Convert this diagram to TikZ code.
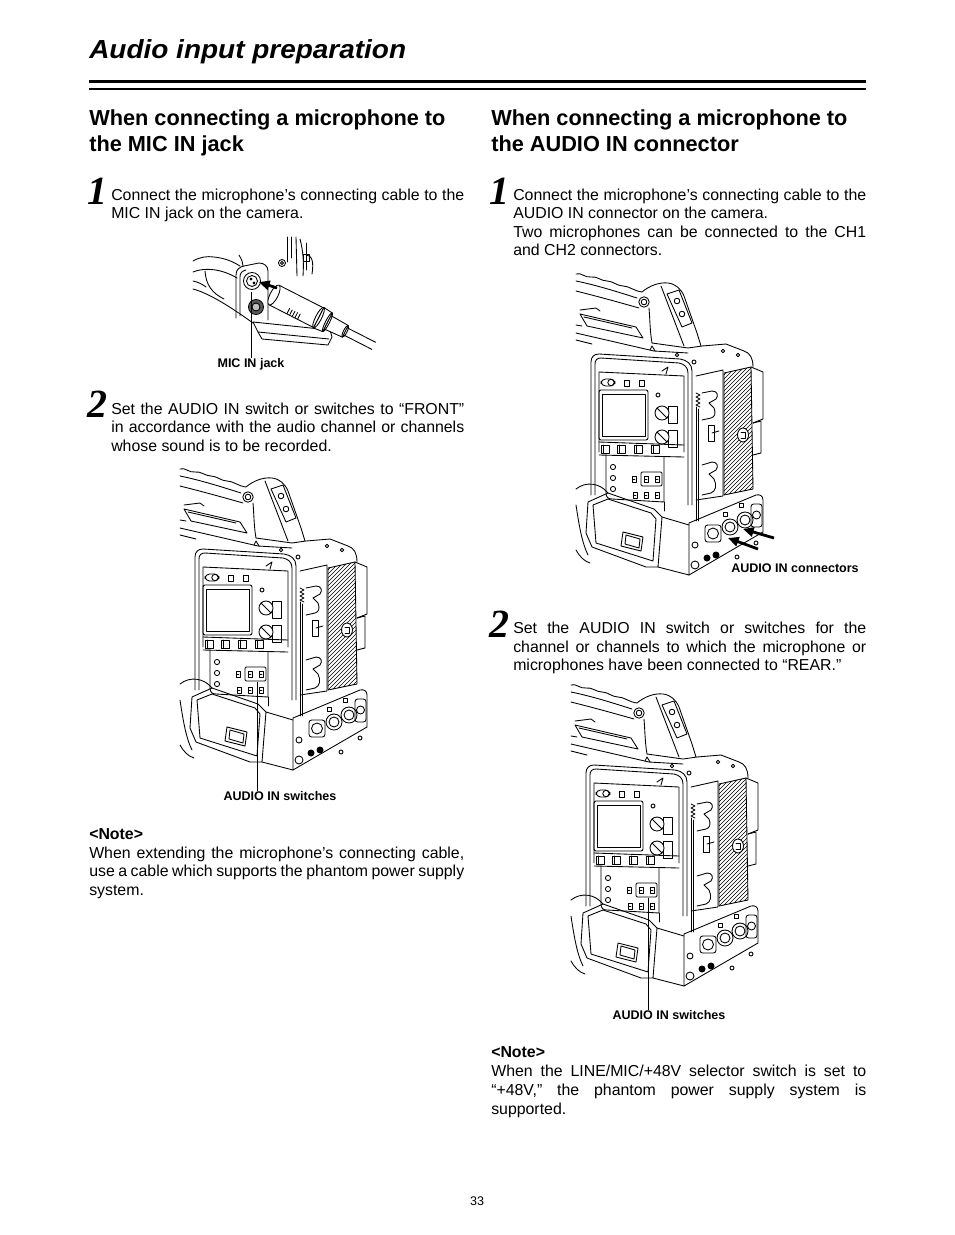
\documentclass[tikz,border=0pt]{standalone}
\usepackage{fontspec}
\setmainfont{Liberation Sans}
\newfontfamily\stepfont{Liberation Serif}
\usetikzlibrary{arrows.meta}
\newcommand\jl[2]{\makebox[#1][s]{#2}}
\tikzset{
  ln/.style={line width=0.65pt,line join=round,line cap=round},
  hatch/.style={line width=0.4pt},
  bodytxt/.style={inner sep=0pt,anchor=base west,font=\fontsize{11.9}{14}\selectfont},
  notehd/.style={inner sep=0pt,anchor=base west,font=\fontsize{11.9}{14}\selectfont\bfseries},
  headtxt/.style={inner sep=0pt,anchor=base west,font=\fontsize{16.3}{19}\selectfont\bfseries},
  titletxt/.style={inner sep=0pt,anchor=base west,font=\fontsize{19.6}{22}\selectfont\bfseries\itshape},
  stepnum/.style={inner sep=0pt,anchor=base west,font=\fontsize{30}{31}\stepfont\bfseries\itshape},
  lbl/.style={inner sep=0pt,anchor=base,font=\fontsize{9.4}{11}\selectfont\bfseries},
  leader/.style={line width=0.6pt},
  bigarrow/.style={line width=2.1pt,-{Triangle[length=8pt,width=7pt]}},
  camera/.pic={
    % handle grip
    \draw[ln] (180,469) .. controls (185,467) and (189,473) .. (195,472)
      .. controls (201,471) and (205,476) .. (211,476)
      .. controls (217,476) and (221,481) .. (227,481)
      .. controls (233,481) and (238,486) .. (246,487)
      .. controls (253,481) and (263,477) .. (272,478)
      .. controls (280,479) and (285,484) .. (288,491)
      -- (301,528) -- (305,541);
    \draw[ln] (180,476) .. controls (200,480) and (222,487) .. (241,493);
    \draw[ln] (180,486) .. controls (200,491) and (222,497) .. (243,503);
    \draw[ln] (253,503) .. controls (254,515) and (254,527) .. (256,538);
    \draw[ln] (265,481) -- (288,541);
    \draw[ln] (271,489) -- (283,485) -- (296,518) -- (286,522) -- cycle;
    \draw[ln] (281,496) circle (2.8);
    \draw[ln] (286,509) circle (2.8);
    \draw[ln,fill=white] (248,497) circle (5.2);
    \draw[ln] (248,497) circle (2.8);
    % top of body
    \draw[ln] (184,509) -- (240,522) -- (247,533) -- (191,521) -- cycle;
    \draw[ln] (188,512) -- (236,523);
    \draw[ln] (184,505) -- (200,503) -- (204,506);
    \draw[ln] (180,520) -- (186,521);
    \draw[ln] (180,528) -- (258,546) -- (292,548);
    \draw[ln] (180,535) -- (196,539);
    \draw[ln] (256,538) -- (292,543) -- (306,541) -- (330,539) -- (348,546)
      .. controls (354,548) and (357,553) .. (357,562);
    \draw[ln] (281,550) circle (1.8);
    \draw[ln] (327,546) circle (1.8);
    \draw[ln] (342,550) circle (1.8);
    \draw[ln] (298,557) circle (2);
    \draw[ln] (254,545) -- (256,541) -- (259,546);
    % front panel
    \draw[ln] (195,690) -- (195,557) .. controls (195,552) and (198,549) .. (203,549)
      -- (284,554) .. controls (291,555) and (296,559) .. (296,566) -- (296,700);
    \draw[ln] (199,690) -- (199,559) .. controls (199,555) and (201,553) .. (205,553)
      -- (283,558) .. controls (288,559) and (292,562) .. (292,568) -- (292,700);
    \draw[ln] (203,647) -- (203,567) -- (288,571) -- (288,647);
    \draw[ln] (266,566) -- (272,562) -- (270,569);
    % LCD
    \draw[ln,rounded corners=1.5] (203,585) rectangle (252,635);
    \draw[ln] (206,589) rectangle (249,631);
    \draw[ln,rounded corners=3.4] (205,574) rectangle (219,581);
    \draw[ln] (215,577.5) circle (3.2);
    \draw[ln] (228,575) rectangle (233,581);
    \draw[ln] (243,575) rectangle (248,581);
    \draw[ln] (262,590) circle (2);
    % knobs
    \draw[ln] (272,601) rectangle (281,618);
    \draw[ln] (272,625) rectangle (281,642);
    \draw[ln,fill=white] (266,608) circle (7);
    \draw[ln,fill=white] (266,632) circle (7);
    \draw[ln] (261,603) -- (271,613);
    \draw[ln] (261,627) -- (271,637);
    % button row
    \draw[ln] (203,637) -- (288,640);
    \foreach \bx in {205,221,238,255} {\draw[ln] (\bx,640) rectangle ++(8,8);
      \draw[ln] (\bx+2,640) -- (\bx+2,648);}
    \draw[ln] (203,650) -- (288,652);
    % audio panel
    \draw[ln] (210,650) -- (210,688) .. controls (210,692) and (212,694) .. (216,694) -- (268,697) -- (268,652);
    \foreach \cy in {662,673,684} {\draw[ln] (217,\cy) circle (2.6);}
    \draw[ln,rounded corners=1] (245,667) rectangle (266,681);
    \foreach \sx/\sy in {238/674,250/674,261/674,239/690,250/690,261/690}
      {\draw[ln] (\sx-2,\sy-3) rectangle (\sx+2,\sy+3);
       \draw[ln] (\sx-1,\sy) -- (\sx+1,\sy);}
    % hood and lens side
    \draw[ln] (180,684) .. controls (190,676) and (204,678) .. (212,688);
    \draw[ln] (192,697) -- (212,688) -- (258,704) -- (266,712) -- (262,762) -- (250,762) -- (196,742) -- (190,728) -- cycle;
    \draw[ln] (197,700) -- (212,694) -- (255,708) -- (260,714) -- (257,756) -- (200,738) -- cycle;
    \draw[ln] (227,727) -- (247,732) -- (245,746) -- (225,741) -- cycle;
    \draw[ln] (230,730) -- (244,734) -- (243,743) -- (229,739) -- cycle;
    \draw[ln] (180,700) .. controls (183,720) and (186,738) .. (192,750);
    \draw[ln] (180,745) .. controls (184,752) and (188,756) .. (194,758);
    % lower body front
    \draw[ln] (266,712) -- (293,720);
    \draw[ln] (262,762) -- (293,770);
    \draw[ln] (268,697) -- (268,706);
    % mount plate
    \draw[ln] (300,571) -- (327,565) -- (327,691) -- (300,695);
    \draw[ln] (306,588) -- (316,586) .. controls (321,586) and (323,590) .. (320,594) -- (313,598) -- (318,603)
      .. controls (320,608) and (319,612) .. (315,613) -- (306,615);
    \draw[ln] (306,660) -- (316,657) .. controls (321,657) and (323,661) .. (320,665) -- (313,669) -- (318,674)
      .. controls (321,680) and (320,686) .. (315,688) -- (306,690);
    \draw[ln] (312,620) rectangle (318,636);
    \draw[ln] (316,628) -- (323,626);
    \draw[ln] (300,588) -- (304,590) -- (300,592) -- (304,594) -- (300,596) -- (304,598) -- (300,600) -- (304,602);
    \draw[ln] (300,602) -- (300,716);
    \draw[ln] (302.5,604) -- (302.5,716);
    % battery
    \begin{scope}
      \clip (328,568) -- (355,562) -- (357,684) -- (328,690) -- cycle;
      \foreach \k in {186,190,...,360} {\draw[hatch] (\k,700) -- (\k+140,560);}
    \end{scope}
    \draw[ln] (328,568) -- (355,562) -- (357,684) -- (328,690) -- cycle;
    \draw[ln,fill=white] (347,630) ellipse (5.5 and 7);
    \draw[ln] (345,627) -- (349,627) -- (349,633) -- (345,633);
    \draw[ln] (355,562) -- (367,567) -- (367,614) -- (357,618);
    \draw[ln] (357,618) -- (365,616) -- (365,648) -- (357,650);
    % connector block
    \draw[ln] (293,770) -- (293,718) -- (360,690) .. controls (364,689) and (367,691) .. (367,695) -- (367,727) -- cycle;
    \draw[ln,rounded corners=2] (309,720) rectangle (325,737);
    \draw[ln] (317,728.5) circle (5.5);
    \draw[ln] (334,722) circle (8);
    \draw[ln] (334,722) circle (5);
    \draw[ln] (349,715) circle (8);
    \draw[ln] (349,715) circle (5);
    \draw[ln,rounded corners=2] (355,699) rectangle (366,722);
    \draw[ln] (360.5,710) circle (4);
    \draw[ln] (327,707) rectangle (331,711);
    \draw[ln] (343,698) rectangle (347,702);
    \fill (311,753) circle (3.5);
    \fill (320,750) circle (3.5);
    \draw[ln] (299,740) circle (3);
    \draw[ln] (299,760) circle (4);
    \draw[ln] (341,752) circle (2);
    \draw[ln] (360,738) circle (2);
  }
}
\begin{document}
\begin{tikzpicture}[x=0.75pt,y=-0.75pt]
\useasboundingbox (0,0) rectangle (954,1235);
\fill[white] (0,0) rectangle (954,1235);

% title and rules
\node[titletxt] (title) at (89,58) {\scalebox{1.07}[1]{Audio input preparation}};
\draw[line width=2.1pt] (89,81.7) -- (866,81.7);
\draw[line width=0.8pt] (89,89) -- (866,89);

% ---------- left column ----------
\node[headtxt] (h1a) at (89,125) {When connecting a microphone to};
\node[headtxt] (h1b) at (89,151) {the MIC IN jack};

\node[stepnum] (s1l) at (87,204) {1};
\node[bodytxt] (t1a) at (111,200) {\jl{264.75pt}{Connect the microphone’s connecting cable to the}};
\node[bodytxt] (t1b) at (111,218) {MIC IN jack on the camera.};

% figure 1 : MIC IN jack
\draw[ln] (287,237) -- (287,262);
\draw[ln] (291,237) -- (291,258);
\draw[ln] (296,237) -- (297,276);
\draw[ln] (300,239) .. controls (303,250) and (304,262) .. (303,276);
\draw[ln] (306,243) -- (306,270);
\draw[ln] (306,255) .. controls (312,255) and (314,262) .. (312,274);
\draw[ln] (282,263) circle (3.5);
\draw[ln] (282,263) circle (1.5);
\draw[ln] (303,254) rectangle (309,261);
% grip
\draw[ln] (193,261) .. controls (200,257) and (207,256) .. (214,257) .. controls (224,258) and (232,261) .. (240,266);
\draw[ln] (193,272) .. controls (205,267) and (222,269) .. (237,278);
\draw[ln] (193,289) .. controls (208,293) and (228,305) .. (253,323);
\draw[ln] (205,271) .. controls (206,285) and (212,293) .. (224,299);
\draw[ln] (193,281) .. controls (198,282) and (202,284) .. (206,287);
\draw[ln] (239,255) .. controls (242,260) and (243,263) .. (243,266);
% housing
\draw[ln] (236,318) -- (236,275) .. controls (236,270) and (239,267) .. (244,266) -- (259,263)
  .. controls (264,263) and (268,266) .. (268,271) -- (268,320);
\draw[ln] (240,316) -- (240,277) .. controls (240,273) and (242,271) .. (246,270);
\draw[ln] (252,281) circle (8.5);
\draw[ln] (252,281) circle (5.5);
\draw[ln] (251,279) circle (1);
\draw[ln] (254,283) circle (1);
\draw[ln,fill=black!65] (256,307) circle (7.5);
\draw[ln,fill=black!25] (256,307) circle (4);
% bracket
\draw[ln] (253,322) -- (330,330) -- (332,337) -- (328,345) -- (262,339) -- (258,332) -- cycle;
\draw[ln] (258,332) -- (329,339);
% plug
\begin{scope}[shift={(274,295)},rotate=-27]
  \draw[ln] (78,-4) -- (112,-4);
  \draw[ln] (78,4) -- (112,4);
  \draw[ln,fill=white] (60,-7.5) -- (80,-6.5) -- (80,6.5) -- (60,7.5) -- cycle;
  \draw[ln] (80,0) ellipse (1.8 and 6.5);
  \draw[ln,fill=white] (50,-11.5) -- (60,-10.5) -- (60,10.5) -- (50,11.5) -- cycle;
  \draw[ln] (60,0) ellipse (2 and 10.5);
  \draw[ln,fill=white] (0,-11) -- (50,-11) -- (50,11) -- (0,11) -- cycle;
  \draw[ln,fill=white] (0,0) ellipse (4 and 11);
  \draw[ln] (50,0) ellipse (3 and 11.5);
  \foreach \rr in {20,23,26,29,32} {\draw[ln] (\rr,5) -- (\rr,10.5);}
\end{scope}
\coordinate (a1s) at (277,288);
\coordinate (a1e) at (259,282);
\draw[bigarrow] (a1s) -- (a1e);
\coordinate (mic) at (251,292);
\node[lbl] (lmic) at (251,367.5) {MIC IN jack};
\draw[leader] (mic) -- (mic |- lmic.north);

\node[stepnum] (s2l) at (87,417) {2};
\node[bodytxt] (t2a) at (111,414) {\jl{264.75pt}{Set the AUDIO IN switch or switches to “FRONT”}};
\node[bodytxt] (t2b) at (111,432.5) {\jl{264.75pt}{in accordance with the audio channel or channels}};
\node[bodytxt] (t2c) at (111,451) {whose sound is to be recorded.};

% figure 2
\pic at (0,0) {camera};
\coordinate (sw2) at (257,682);
\node[lbl] (lsw2) at (280,800.5) {AUDIO IN switches};
\draw[leader] (sw2) -- (sw2 |- lsw2.north);

\node[notehd] (n1) at (89,839) {<Note>};
\node[bodytxt] (n1a) at (89,858) {\jl{281.25pt}{When extending the microphone’s connecting cable,}};
\node[bodytxt] (n1b) at (89,876) {\jl{281.25pt}{use a cable which supports the phantom power supply}};
\node[bodytxt] (n1c) at (89,895) {system.};

% ---------- right column ----------
\node[headtxt] (h2a) at (491,125) {When connecting a microphone to};
\node[headtxt] (h2b) at (491,151) {the AUDIO IN connector};

\node[stepnum] (s1r) at (489,204) {1};
\node[bodytxt] (r1a) at (513,200) {\jl{264.75pt}{Connect the microphone’s connecting cable to the}};
\node[bodytxt] (r1b) at (513,218) {AUDIO IN connector on the camera.};
\node[bodytxt] (r1c) at (513,237) {\jl{264.75pt}{Two microphones can be connected to the CH1}};
\node[bodytxt] (r1d) at (513,255) {and CH2 connectors.};

% figure 3
\pic at (396,-195) {camera};
\coordinate (ar1s) at (774,538);
\coordinate (ar1e) at (743,529);
\coordinate (ar2s) at (758,549);
\coordinate (ar2e) at (728,538);
\draw[bigarrow] (ar1s) -- (ar1e);
\draw[bigarrow] (ar2s) -- (ar2e);
\node[lbl] (lcon) at (795,572.5) {AUDIO IN connectors};

\node[stepnum] (s2r) at (489,637) {2};
\node[bodytxt] (r2a) at (513,633) {\jl{264.75pt}{Set the AUDIO IN switch or switches for the}};
\node[bodytxt] (r2b) at (513,652) {\jl{264.75pt}{channel or channels to which the microphone or}};
\node[bodytxt] (r2c) at (513,670) {microphones have been connected to “REAR.”};

% figure 4
\pic at (391,216) {camera};
\coordinate (sw4) at (648,898);
\node[lbl] (lsw4) at (669,1019.5) {AUDIO IN switches};
\draw[leader] (sw4) -- (sw4 |- lsw4.north);

\node[notehd] (n2) at (491,1057) {<Note>};
\node[bodytxt] (n2a) at (491,1076) {\jl{281.25pt}{When the LINE/MIC/+48V selector switch is set to}};
\node[bodytxt] (n2b) at (491,1095) {\jl{281.25pt}{“+48V,” the phantom power supply system is}};
\node[bodytxt] (n2c) at (491,1114) {supported.};

\node[inner sep=0pt,anchor=base,font=\fontsize{9.4}{11}\selectfont] (pg) at (477,1205) {33};
\end{tikzpicture}
\end{document}
